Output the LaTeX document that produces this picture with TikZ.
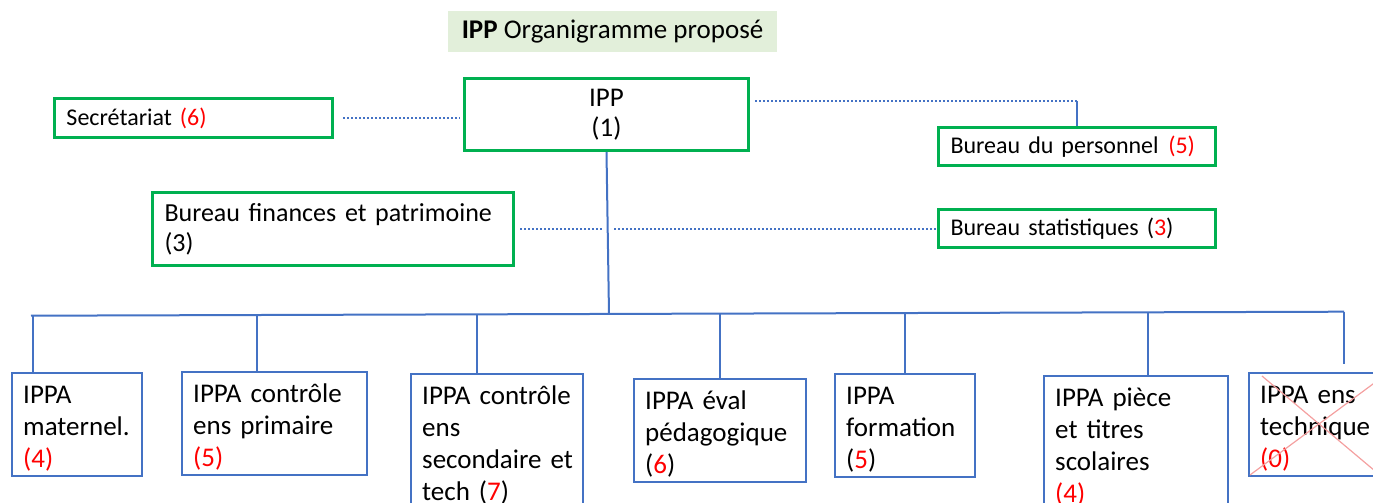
\documentclass[tikz,border=0pt]{standalone}
\usepackage{fontspec}
\setmainfont{Carlito}
\usepackage{xcolor}
\usepackage{tikz}
\usetikzlibrary{calc}
\definecolor{vertipp}{HTML}{00B050}
\definecolor{bleuipp}{HTML}{4472C4}
\definecolor{rougeipp}{HTML}{FF0000}
\definecolor{vertclair}{HTML}{E2EFDA}
\definecolor{croixipp}{HTML}{F4A0A0}
\newcommand{\rouge}[1]{\textcolor{rougeipp}{#1}}
\hyphenpenalty=10000
\tikzset{
  boite/.style={draw=vertipp, line width=1.5pt, inner xsep=6pt, inner ysep=0pt, align=left, anchor=north west},
  petite/.style={boite, font=\fontsize{12}{14}\selectfont},
  grande/.style={boite, font=\fontsize{13.5}{15}\selectfont},
  service/.style={draw=bleuipp, line width=1.2pt, inner xsep=5.5pt, inner ysep=2.5pt, align=left, anchor=north west,
    font=\fontsize{13.5}{16}\selectfont, execute at begin node={\rule{0pt}{12.5pt}}},
  lien/.style={bleuipp, line width=1pt},
  pointille/.style={bleuipp, line width=1.2pt, dash pattern=on 1pt off 1pt},
  croix/.style={croixipp, line width=0.6pt},
  titre/.style={fill=vertclair, minimum width=164.5pt, minimum height=20.5pt, font=\fontsize{13.5}{16}\selectfont},
}

\begin{document}
\begin{tikzpicture}[x=0.5pt,y=-0.5pt]
    \useasboundingbox (0,0) rectangle (1373,503);

    \node[titre] (titre) at (612.5,31.5) {\textbf{IPP} Organigramme proposé};

    % direction et bureaux
    \node[grande, align=center, text width=130pt, minimum height=36pt] (ipp) at (463,77) {IPP\\(1)};
    \node[petite, text width=127pt, minimum height=19.5pt] (secr) at (53,97) {Secrétariat \rouge{(6)}};
    \node[petite, text width=126.5pt, minimum height=19pt] (perso) at (937,126) {Bureau du personnel\hspace{0.4em}\rouge{(5)}};
    \node[grande, font=\fontsize{13}{15}\selectfont, text width=168.5pt, minimum height=36.5pt] (fin) at (151,191) {Bureau~finances~et~patrimoine\\(3)};
    \node[petite, text width=126.5pt, minimum height=19pt] (stat) at (937,208) {Bureau statistiques (\rouge{3})};

    % IPPA
    \node[service, text width=54pt] (mat) at (11,372) {IPPA\\maternel.\\\rouge{(4)}};
    \node[service, text width=81.5pt] (prim) at (181,371) {IPPA~contrôle\\ens~primaire\\\rouge{(5)}};
    \node[service, text width=75pt] (sec) at (410,373) {IPPA~contrôle\\ens\\secondaire~et\\tech (\rouge{7})};
    \node[service, text width=75pt] (peda) at (633,378) {IPPA~éval\\pédagogique\\(\rouge{6})};
    \node[service, text width=59pt] (form) at (834,373) {IPPA\\formation\\(\rouge{5})};
    \node[service, text width=81pt] (piece) at (1043,375) {IPPA~pièce\\et~titres\\scolaires\\\rouge{(4)}};
    \node[service, text width=74pt] (tech) at (1248,372) {IPPA~ens\\technique\\\rouge{(0)}};
    \draw[croix] (1262,376) -- (1400,492);
    \draw[croix] (1250,475) -- (1400,364);

    % liens pointilles
    \draw[pointille] ([xshift=4.5pt]secr.east) -- ([xshift=-1.5pt]ipp.west |- secr.east);
    \coordinate (coin) at (1077,101);
    \draw[pointille] ([xshift=2.5pt]ipp.east |- coin) -- (coin);
    \draw[lien] (coin) -- (coin |- perso.north);

    % tronc et barre
    \coordinate (bm) at (609,314);
    \coordinate (bg) at (31,315.7);
    \coordinate (bd) at (1344,311.7);
    \draw[lien] (ipp.south) -- (bm);
    \draw[lien] (bg) -- (bd);
    \draw[pointille] ([xshift=2.5pt]fin.east) -- ([xshift=-3pt]fin.east -| bm);
    \draw[pointille] ([xshift=2.5pt]fin.east -| bm) -- (stat.west |- fin.east);

    \foreach \n/\t in {mat/0.0015, prim/0.172, sec/0.34, peda/0.525, form/0.666, piece/0.851}{
      \coordinate (d\n) at ($(bg)!\t!(bd)$);
      \draw[lien] (d\n) -- (d\n |- \n.north);
    }
    \draw[lien] (bd) -- ([yshift=4pt]bd |- tech.north);
\end{tikzpicture}
\end{document}
